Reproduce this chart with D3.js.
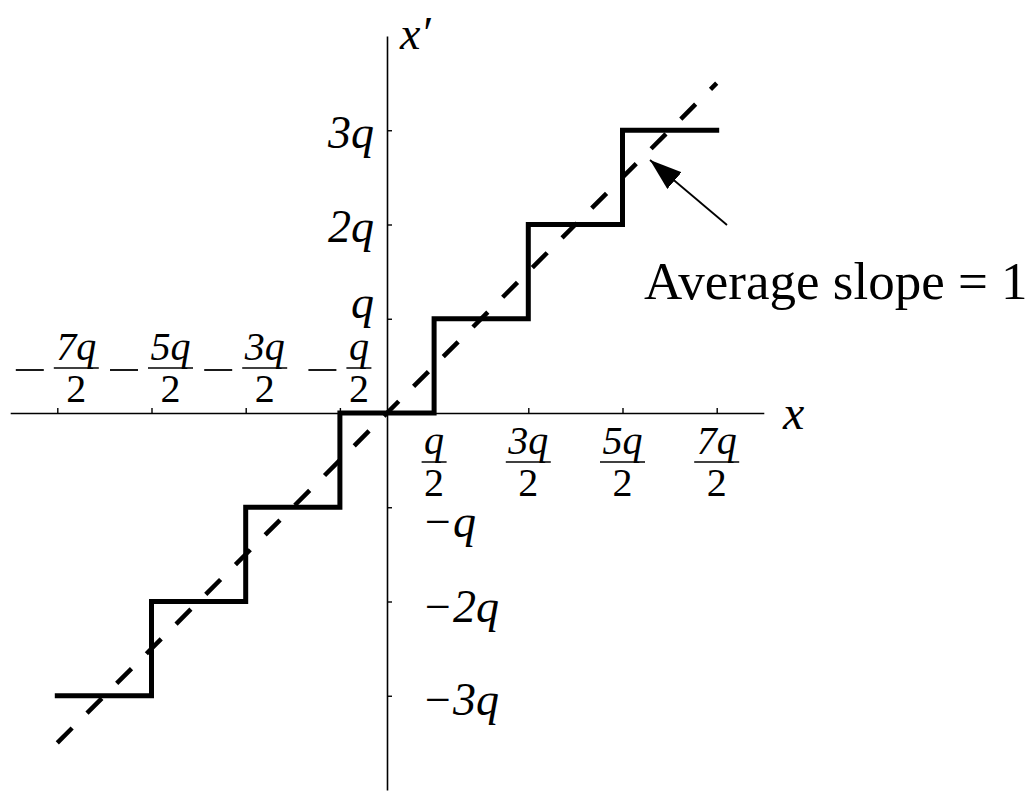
<!DOCTYPE html>
<html>
<head>
<meta charset="utf-8">
<script src="https://cdn.jsdelivr.net/npm/d3@7"></script>
<style>
  html, body { margin: 0; padding: 0; background: #fff; }
  svg { display: block; }
  text { font-family: "Liberation Serif", "DejaVu Serif", serif; fill: #000; }
  .it { font-style: italic; }
</style>
</head>
<body>
<svg id="chart" width="1032" height="792"></svg>
<script>
// Quantizer staircase: input x, output x' in units of q
const stepEdges  = [-3.5, -2.5, -1.5, -0.5, 0.5, 1.5, 2.5, 3.5];
const stepLevels = [-3, -2, -1, 0, 1, 2, 3, 3];
// Average slope line x' = x
const slopeX = [-3.5, 3.5];
const slopeY = [-3.5, 3.5];

// Axis ticks (x at odd multiples of q/2, y at integer multiples of q)
const xTicks = [-3.5, -2.5, -1.5, -0.5, 0.5, 1.5, 2.5, 3.5];
const xTickNum = ["7q", "5q", "3q", "q", "q", "3q", "5q", "7q"];
const xTickNeg = [true, true, true, true, false, false, false, false];
const yTicks = [3, 2, 1, -1, -2, -3];
const yTickLabels = ["3q", "2q", "q", "\u2212q", "\u22122q", "\u22123q"];
const yLabelShift = [18, 17, -1, 30, 20, 19];

const annotation = "Average slope = 1";

const svg = d3.select("#chart");

const x = d3.scaleLinear().domain([-4, 4]).range([10.2, 763.8]);
const y = d3.scaleLinear().domain([-4, 4]).range([790, 36]);

// Axes through the origin
const xAxis = d3.axisTop(x).tickValues(xTicks).tickSize(5).tickSizeOuter(0).tickFormat("");
const yAxis = d3.axisRight(y).tickValues(yTicks).tickSize(5).tickSizeOuter(0).tickFormat("");

const gx = svg.append("g").attr("transform", `translate(0,${y(0)})`).call(xAxis);
const gy = svg.append("g").attr("transform", `translate(${x(0)},0)`).call(yAxis);
[gx, gy].forEach(g => {
  g.select(".domain").attr("stroke", "#000").attr("stroke-width", 1.6);
  g.selectAll(".tick line").attr("stroke", "#000").attr("stroke-width", 1.4);
});

// Fractional x tick labels
const fracSize = 40;
xTicks.forEach((v, i) => {
  const neg = xTickNeg[i];
  const barY = neg ? 368 : 462;
  const g = svg.append("g");
  const num = g.append("text").attr("class", "it")
    .attr("font-size", fracSize).attr("text-anchor", "middle")
    .attr("y", barY - 8).text(xTickNum[i]);
  const den = g.append("text")
    .attr("font-size", fracSize).attr("text-anchor", "middle")
    .attr("y", barY + 34).text("2");
  const w = Math.max(num.node().getComputedTextLength(), den.node().getComputedTextLength()) + 5;
  let cx = x(v);
  if (neg) {
    // minus sign plus fraction, centred as one unit on the tick
    const minusW = 28, gap = 10;
    const total = minusW + gap + w;
    const left = x(v) - total / 2;
    cx = left + minusW + gap + w / 2;
    g.append("line")
      .attr("x1", left).attr("x2", left + minusW)
      .attr("y1", barY + 2).attr("y2", barY + 2)
      .attr("stroke", "#000").attr("stroke-width", 1.8);
  }
  num.attr("x", cx);
  den.attr("x", cx);
  g.append("line")
    .attr("x1", cx - w / 2).attr("x2", cx + w / 2)
    .attr("y1", barY).attr("y2", barY)
    .attr("stroke", "#000").attr("stroke-width", 1.5);
});

// y tick labels: positive on the left, negative on the right
yTicks.forEach((v, i) => {
  const pos = v > 0;
  svg.append("text").attr("class", "it")
    .attr("font-size", 46)
    .attr("text-anchor", pos ? "end" : "start")
    .attr("x", pos ? x(0) - 13 : x(0) + 35)
    .attr("y", y(v) + yLabelShift[i])
    .text(yTickLabels[i]);
});

// Axis titles
svg.append("text").attr("class", "it").attr("font-size", 48)
  .attr("x", 783).attr("y", 429).text("x");
svg.append("text").attr("class", "it").attr("font-size", 46)
  .attr("x", 400).attr("y", 49).text("x\u2032");

// Dashed line of unit slope
svg.append("path")
  .datum(slopeX.map((d, i) => [d, slopeY[i]]))
  .attr("d", d3.line().x(d => x(d[0])).y(d => y(d[1])))
  .attr("fill", "none").attr("stroke", "#000")
  .attr("stroke-width", 4.5).attr("stroke-dasharray", "21,21");

// Staircase transfer characteristic
svg.append("path")
  .datum(stepEdges.map((d, i) => [d, stepLevels[i]]))
  .attr("d", d3.line().x(d => x(d[0])).y(d => y(d[1])).curve(d3.curveStepAfter))
  .attr("fill", "none").attr("stroke", "#000")
  .attr("stroke-width", 5).attr("stroke-linejoin", "miter").attr("stroke-linecap", "square");

// Annotation arrow pointing at the dashed line
svg.append("defs").append("marker")
  .attr("id", "head").attr("viewBox", "0 0 32 22")
  .attr("refX", 32).attr("refY", 11)
  .attr("markerWidth", 32).attr("markerHeight", 22)
  .attr("markerUnits", "userSpaceOnUse").attr("orient", "auto")
  .append("path").attr("d", "M0,0 L32,11 L0,22 Z").attr("fill", "#000");

svg.append("line")
  .attr("x1", 727).attr("y1", 225).attr("x2", 650).attr("y2", 160)
  .attr("stroke", "#000").attr("stroke-width", 1.8)
  .attr("marker-end", "url(#head)");

svg.append("text").attr("font-size", 53)
  .attr("x", 644).attr("y", 299).text(annotation);
</script>
</body>
</html>
